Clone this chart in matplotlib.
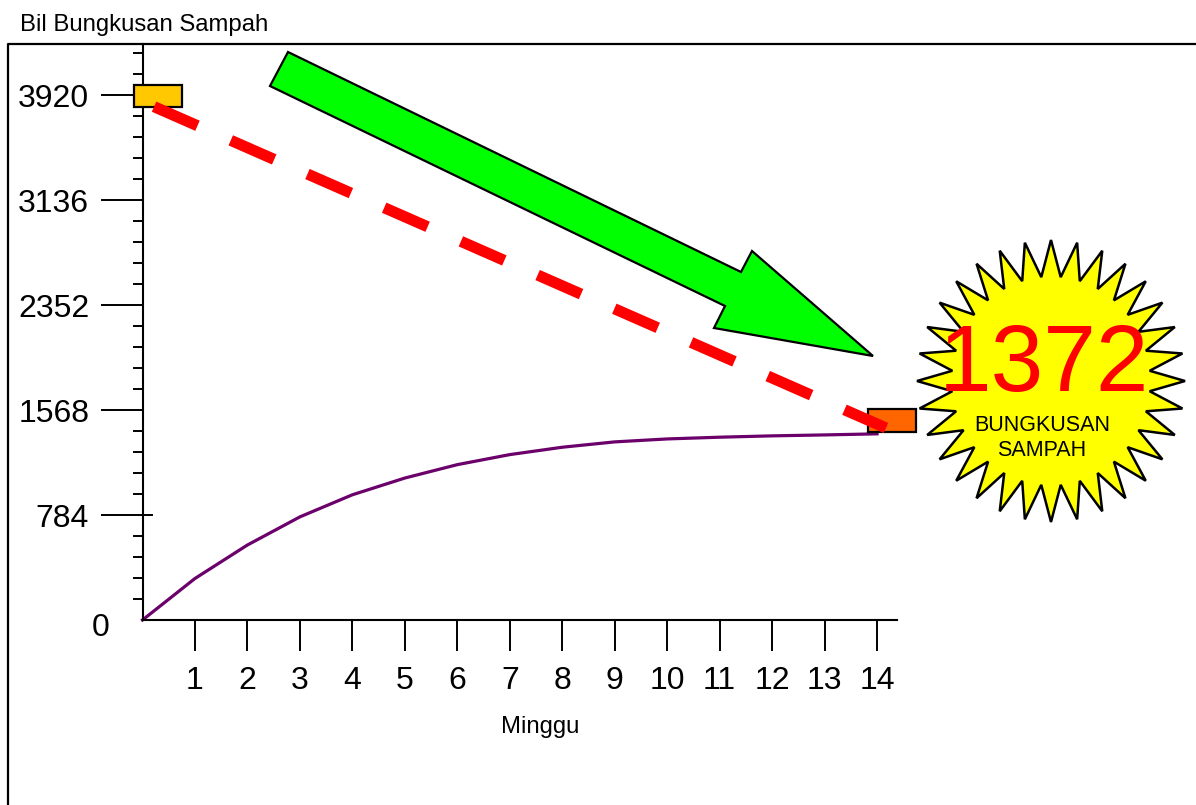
import matplotlib.pyplot as plt
from matplotlib.patches import Rectangle, Polygon
from matplotlib.ticker import FixedLocator
import numpy as np

plt.rcParams['font.family'] = ['Liberation Sans', 'DejaVu Sans']

# data
weeks = [0, 1, 2, 3, 4, 5, 6, 7, 8, 9, 10, 11, 12, 13, 14]
bags = [0, 310, 560, 770, 935, 1060, 1160, 1235, 1290, 1330, 1352, 1365, 1375, 1382, 1390]
trend_weeks = [0.22, 14.17]
trend_values = [3833, 1434]
box_weeks = [0.3, 14.29]
box_values = [3913, 1490]
box_colors = ['#FFC800', '#FF6600']
y_major = [784, 1568, 2352, 3136, 3920]
x_ticks = list(range(1, 15))
total = 1372

W, H = 1196, 805
fig = plt.figure(figsize=(W / 100, H / 100), dpi=100)

# overlay in pixel units for the frame, arrow and star
deco = fig.add_axes([0, 0, 1, 1])
deco.set_xlim(0, W)
deco.set_ylim(H, 0)
deco.axis('off')

ax = fig.add_axes([142.5 / W, 1 - 620 / H, 754.5 / W, 576 / H])
ax.patch.set_visible(False)
ax.set_xlim(0, 14.38)
ax.set_ylim(0, 4301)

for s in ['top', 'right']:
    ax.spines[s].set_visible(False)
for s in ['left', 'bottom']:
    ax.spines[s].set_linewidth(1.5)

# frame round the chart
deco.plot([8, 8, W + 5], [H + 5, 44, 44], color='black', lw=1.6)

ax.set_xticks(x_ticks)
ax.set_xticklabels([str(t) for t in x_ticks])
ax.set_yticks(y_major)
ax.set_yticklabels([str(v) for v in y_major])
step = y_major[0] / 5
ax.yaxis.set_minor_locator(FixedLocator([step * i for i in range(1, 28) if i % 5]))
ax.tick_params(axis='x', length=22.3, width=1.4, pad=10.5, labelsize=23)
ax.tick_params(axis='y', which='major', length=30, width=1.4, pad=8.4, labelsize=23)
ax.tick_params(axis='y', which='minor', length=7.2, width=1.4)
# the 784 tick also pokes inside the axis
ax.plot([0, 0.19], [y_major[0], y_major[0]], color='black', lw=1.4, clip_on=False)
ax.annotate('0', xy=(0, 0), xycoords='data', xytext=(-33, -4), textcoords='offset pixels',
            ha='right', va='center_baseline', fontsize=23)

fig.text(20 / W, 1 - 31 / H, 'Bil Bungkusan Sampah', fontsize=17.2, ha='left', va='baseline')
fig.text(540 / W, 1 - 727 / H, 'Minggu', fontsize=17.2, ha='center', va='center')

# purple curve
ax.plot(weeks, bags, color='#6B006B', lw=2.3, zorder=2, clip_on=False)

# start / end boxes
for bx, by, bc in zip(box_weeks, box_values, box_colors):
    ax.add_patch(Rectangle((bx - 0.46, by - 84), 0.92, 168, facecolor=bc, edgecolor='black',
                           lw=1.6, zorder=3, clip_on=False))

# red dashed trend
ax.plot(trend_weeks, trend_values, color='#FF0000', lw=8, linestyle=(0, (4.27, 3.27)),
        dash_capstyle='butt', zorder=4, clip_on=False)

# green arrow
arrow = [(288, 52), (741, 272), (752, 251), (873, 356), (714, 328), (725, 306), (270, 86)]
deco.add_patch(Polygon(arrow, closed=True, facecolor='#00FF00', edgecolor='black', lw=1.6))

# starburst
cx, cy, rx, ry, n = 1051, 381, 134, 141, 32
ang = np.deg2rad(90 + np.arange(2 * n) * 180 / n)
rad = np.where(np.arange(2 * n) % 2 == 0, 1.0, 0.74)
star = np.column_stack([cx + rx * rad * np.cos(ang), cy - ry * rad * np.sin(ang)])
deco.add_patch(Polygon(star, closed=True, facecolor='#FFFF00', edgecolor='black', lw=1.8))

deco.text(1044, 366, str(total), color='#FF0000', fontsize=68, ha='center', va='center')
deco.text(1042, 438, 'BUNGKUSAN\nSAMPAH', color='black', fontsize=15.5, ha='center', va='center',
          linespacing=1.3)

fig.savefig('out.png', dpi=100)
